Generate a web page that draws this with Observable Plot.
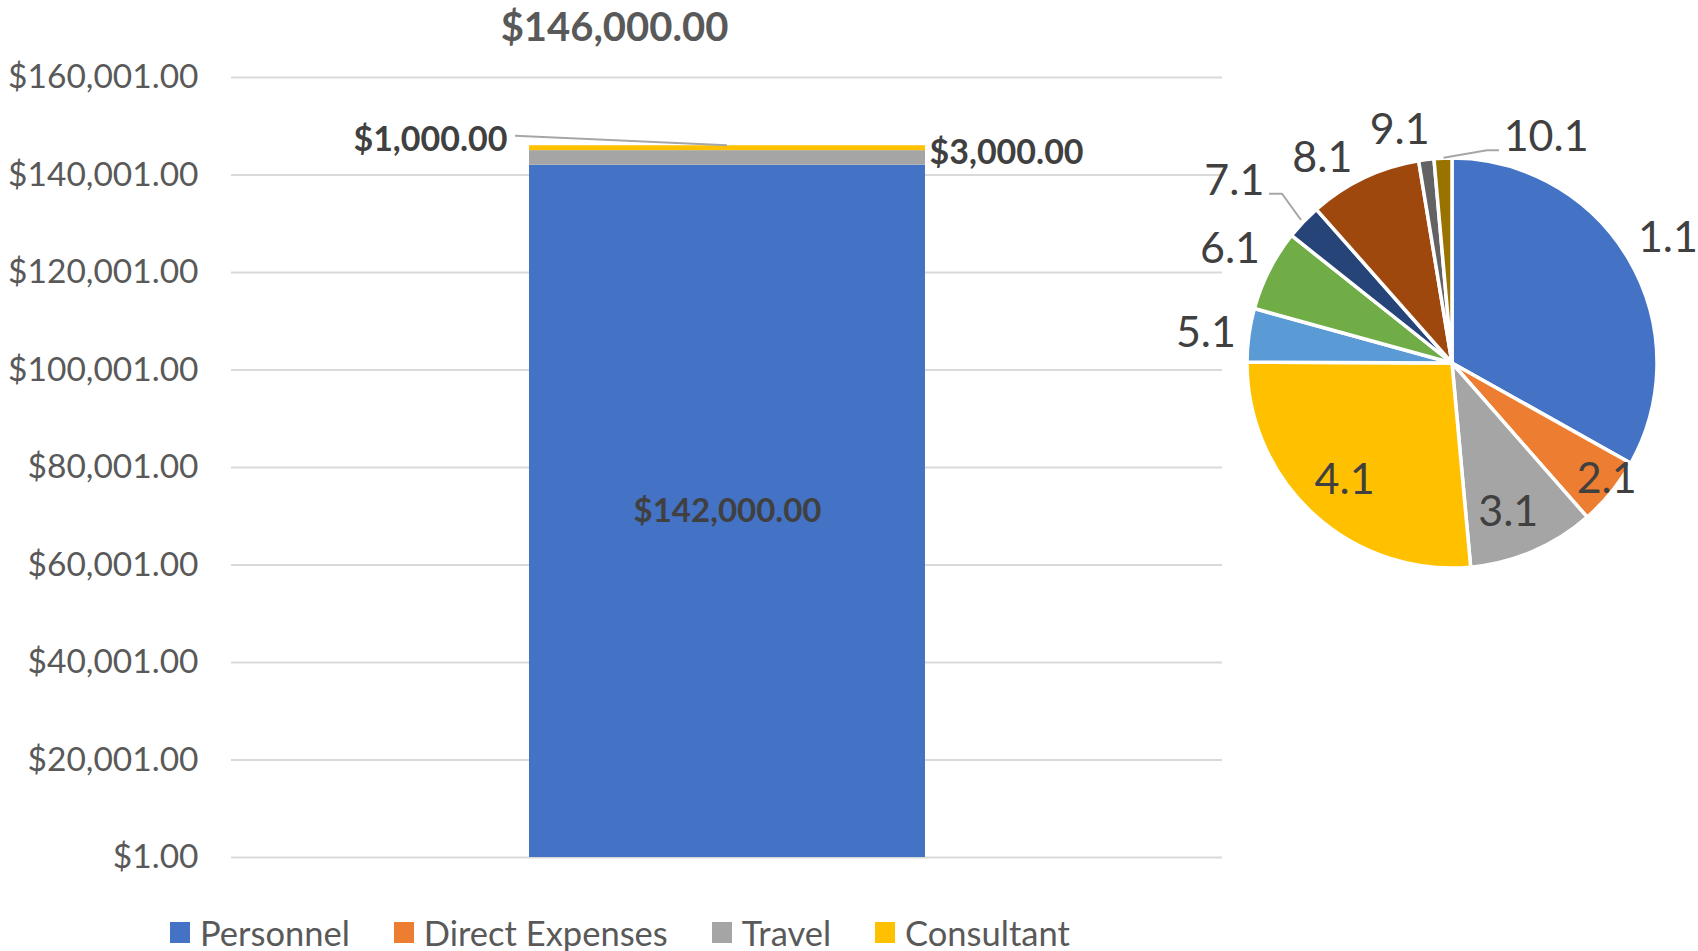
<!DOCTYPE html>
<html>
<head>
<meta charset="utf-8">
<script src="https://cdn.jsdelivr.net/npm/d3@7"></script>
<script src="https://cdn.jsdelivr.net/npm/@observablehq/plot@0.6"></script>
<style>
  html, body { margin: 0; padding: 0; background: #fff; }
  #wrap { position: relative; width: 1698px; height: 951px; overflow: hidden; font-family: Lato, "Open Sans", sans-serif; }
  #chart { position: absolute; left: 0; top: 0; }
  #legend { position: absolute; left: 170px; top: 913px; height: 38px; display: flex; align-items: center; gap: 44px; color: #595959; font-size: 34.5px; }
  .item { display: flex; align-items: center; gap: 10px; }
  .sw { width: 20px; height: 21px; display: inline-block; }
</style>
</head>
<body>
<div id="wrap">
  <div id="chart"></div>
  <div id="legend"></div>
</div>
<script>
// ---------------- data ----------------
const categories = ["Budget"];
const series = ["Personnel", "Direct Expenses", "Travel", "Consultant"];
const seriesValues = [142000, 0, 3000, 1000];
const seriesColors = ["#4472C4", "#ED7D31", "#A5A5A5", "#FFC000"];
const yTicks = [1, 20001, 40001, 60001, 80001, 100001, 120001, 140001, 160001];

const pieLabels = ["1.1", "2.1", "3.1", "4.1", "5.1", "6.1", "7.1", "8.1", "9.1", "10.1"];
const pieValues = [33.1, 5.4, 10.0, 26.5, 4.2, 6.4, 2.8, 8.9, 1.2, 1.4];
const pieColors = ["#4472C4", "#ED7D31", "#A5A5A5", "#FFC000", "#5B9BD5", "#70AD47", "#264478", "#9E480E", "#636363", "#997300"];

// ---------------- layout (positions / styles) ----------------
const pieLayout = { cx: 1452, cy: 363, r: 205 };
// label placement: [angle in degrees clockwise from 12 o'clock, radius factor]
const pieLabelPos = [[59.7, 1.22], [126.6, 0.94], [159.1, 0.77], [222.9, 0.77], [277.2, 1.21],
                     [297.4, 1.22], [310.2, 1.39], [327.9, 1.19], [347.4, 1.17], [22.5, 1.2]];
// leader lines (offsets from pie centre, px)
const pieLeaders = {
  6: [[-183, -169.3], [-170, -169.3], [-151, -143]],
  9: [[-8.4, -205.3], [35, -212.7], [47, -212.7]]
};

// ---------------- derived table ----------------
let cum = 0;
const table = series.map((s, i) => {
  const y1 = cum; cum += seriesValues[i];
  return { cat: categories[0], series: s, value: seriesValues[i], y1, y2: cum, mid: (y1 + cum) / 2 };
});
const total = cum;
const money = d => "$" + d3.format(",.2f")(d);

const PLOT_W = 1698, PLOT_H = 900;
const M = { left: 231, right: 476, top: 77, bottom: 43 };
const X_PAD = 0.4286;

function bandInfo(scales) {
  const x = scales.x;
  let bw = (x && typeof x.bandwidth === "function") ? x.bandwidth() : null;
  const w = PLOT_W - M.left - M.right;
  if (bw == null) bw = w * (1 - X_PAD) / (1 + X_PAD);
  const x0 = x(categories[0]);
  return { cx: x0 + bw / 2, bw };
}

// leader line for the Consultant label
function consultantLeader(index, scales) {
  const { cx } = bandInfo(scales);
  const row = table.find(d => d.series === "Consultant");
  const yTop = scales.y(row.y2);
  const g = d3.create("svg:g");
  g.append("line")
    .attr("x1", cx - 212).attr("y1", yTop - 9.5)
    .attr("x2", cx).attr("y2", yTop)
    .attr("stroke", "#a6a6a6").attr("stroke-width", 2);
  return g.node();
}

// pie chart drawn with d3 shapes inside a Plot render mark
function pieMark() {
  const { cx, cy, r } = pieLayout;
  const pie = d3.pie().sort(null).value(d => d.value)(pieValues.map((v, i) => ({ value: v, i })));
  const arc = d3.arc().innerRadius(0).outerRadius(r);
  const g = d3.create("svg:g").attr("transform", `translate(${cx},${cy})`);
  g.selectAll("path").data(pie).join("path")
    .attr("d", arc)
    .attr("fill", d => pieColors[d.data.i])
    .attr("stroke", "#fff").attr("stroke-width", 3.5).attr("stroke-linejoin", "round");
  for (const k in pieLeaders) {
    g.append("polyline")
      .attr("points", pieLeaders[k].map(p => p.join(",")).join(" "))
      .attr("fill", "none").attr("stroke", "#a6a6a6").attr("stroke-width", 2);
  }
  g.selectAll("text").data(pie).join("text")
    .attr("x", d => { const [a, f] = pieLabelPos[d.data.i]; return Math.sin(a * Math.PI / 180) * f * r; })
    .attr("y", d => { const [a, f] = pieLabelPos[d.data.i]; return -Math.cos(a * Math.PI / 180) * f * r; })
    .attr("dy", "0.36em")
    .attr("text-anchor", "middle")
    .attr("font-size", 43)
    .attr("fill", "#404040")
    .text(d => pieLabels[d.data.i]);
  return g.node();
}

const chart = Plot.plot({
  width: PLOT_W,
  height: PLOT_H,
  marginLeft: M.left, marginRight: M.right, marginTop: M.top, marginBottom: M.bottom,
  style: { fontFamily: "Lato, 'Open Sans', sans-serif", background: "white", overflow: "visible" },
  x: { domain: categories, padding: X_PAD, axis: null },
  y: { domain: [yTicks[0], yTicks[yTicks.length - 1]], axis: null },
  color: { domain: series, range: seriesColors },
  marks: [
    Plot.gridY(yTicks, { stroke: "#d9d9d9", strokeWidth: 2, strokeOpacity: 1 }),
    Plot.axisY(yTicks, { tickSize: 0, tickPadding: 33, tickFormat: money, fontSize: 33.5, fill: "#595959", label: null }),
    Plot.barY(table, { x: "cat", y1: "y1", y2: "y2", fill: "series" }),
    // in-bar label (Personnel)
    Plot.text(table.filter(d => d.series === "Personnel"), {
      x: "cat", y: "mid", text: d => money(d.value), fontSize: 33, fontWeight: 700, fill: "#404040"
    }),
    // Travel label, right of bar
    Plot.text(table.filter(d => d.series === "Travel"), {
      x: "cat", y: "mid", text: d => money(d.value), textAnchor: "start", dx: 202, dy: -5,
      fontSize: 34, fontWeight: 700, fill: "#404040"
    }),
    // Consultant label, left with leader
    Plot.text(table.filter(d => d.series === "Consultant"), {
      x: "cat", y: "y2", text: d => money(d.value), textAnchor: "end", dx: -220, dy: -6,
      fontSize: 34, fontWeight: 700, fill: "#404040"
    }),
    consultantLeader,
    // total label
    Plot.text([{ cat: categories[0], total }], {
      x: "cat", y: "total", text: d => money(d.total), dx: -113, dy: -118,
      fontSize: 40, fontWeight: 700, fill: "#595959"
    }),
    pieMark
  ]
});
document.getElementById("chart").appendChild(chart);

// legend
const legend = d3.select("#legend");
series.forEach((s, i) => {
  const it = legend.append("div").attr("class", "item");
  it.append("span").attr("class", "sw").style("background", seriesColors[i]);
  it.append("span").text(s);
});
</script>
</body>
</html>
